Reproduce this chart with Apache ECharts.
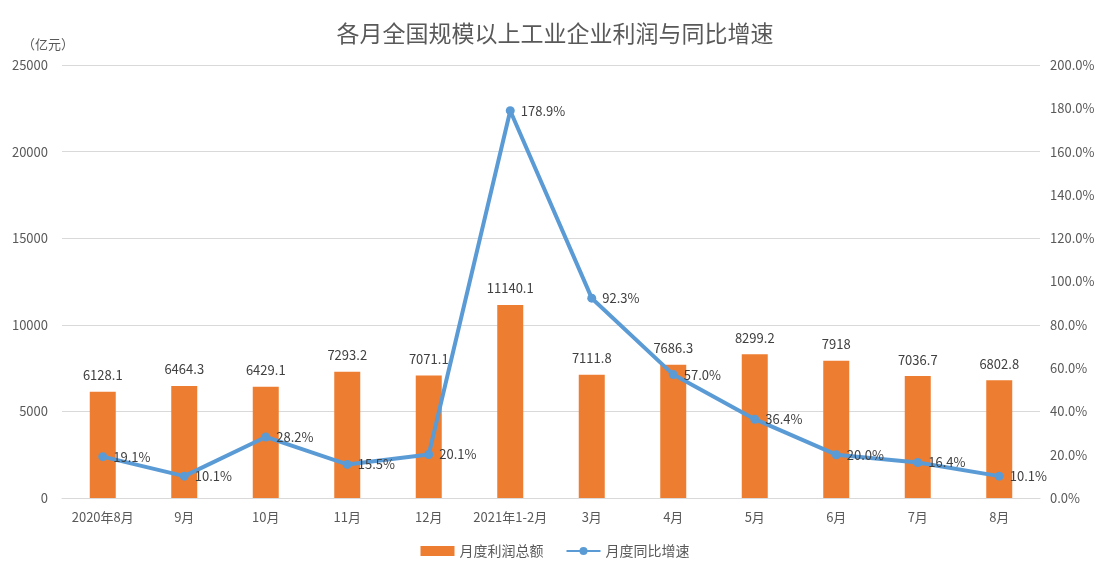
<!DOCTYPE html>
<html>
<head>
<meta charset="utf-8">
<script src="https://cdn.jsdelivr.net/npm/echarts@6/dist/echarts.min.js"></script>
<style>
html,body{margin:0;padding:0;background:#fff;}
#chart{width:1110px;height:583px;}
</style>
</head>
<body>
<div id="chart"></div>
<script>
// 数据
var months = ['2020年8月','9月','10月','11月','12月','2021年1-2月','3月','4月','5月','6月','7月','8月'];
var profit = [6128.1, 6464.3, 6429.1, 7293.2, 7071.1, 11140.1, 7111.8, 7686.3, 8299.2, 7918, 7036.7, 6802.8];
var growth = [19.1, 10.1, 28.2, 15.5, 20.1, 178.9, 92.3, 57.0, 36.4, 20.0, 16.4, 10.1];
var profitLabels = ['6128.1','6464.3','6429.1','7293.2','7071.1','11140.1','7111.8','7686.3','8299.2','7918','7036.7','6802.8'];

var fontFam = '"Microsoft YaHei","Noto Sans CJK SC","DejaVu Sans",sans-serif';
var myChart = echarts.init(document.getElementById('chart'));
var option = {
  textStyle: {fontFamily: fontFam},
  title: {
    text: '各月全国规模以上工业企业利润与同比增速',
    left: 'center',
    top: 17,
    textStyle: {fontSize: 23, fontWeight: 'normal', color: '#595959', fontFamily: fontFam}
  },
  legend: {
    bottom: 20,
    left: 'center',
    itemGap: 22,
    textStyle: {fontSize: 14, color: '#595959'},
    data: [
      {name: '月度利润总额', icon: 'rect', itemStyle: {color: '#ed7d31'}},
      {name: '月度同比增速'}
    ],
    itemWidth: 34,
    itemHeight: 10
  },
  grid: {left: 62, right: 70, top: 65, bottom: 85},
  xAxis: {
    type: 'category',
    data: months,
    axisLine: {lineStyle: {color: '#d9d9d9'}},
    axisTick: {show: false},
    axisLabel: {color: '#595959', fontSize: 13, margin: 13, interval: 0}
  },
  yAxis: [
    {
      type: 'value',
      min: 0, max: 25000, interval: 5000,
      name: '（亿元）',
      nameLocation: 'end',
      nameGap: 14,
      nameTextStyle: {color: '#595959', fontSize: 13, align: 'right', padding: [0, -12, 0, 0]},
      axisLine: {show: false},
      axisTick: {show: false},
      axisLabel: {color: '#595959', fontSize: 13, margin: 14, formatter: function (v) { return String(v); }},
      splitLine: {lineStyle: {color: '#d9d9d9'}}
    },
    {
      type: 'value',
      min: 0, max: 200, interval: 20,
      axisLine: {show: false},
      axisTick: {show: false},
      axisLabel: {color: '#595959', fontSize: 13, margin: 10, formatter: function (v) { return v.toFixed(1) + '%'; }},
      splitLine: {show: false}
    }
  ],
  series: [
    {
      name: '月度利润总额',
      type: 'bar',
      data: profit,
      barWidth: 26,
      itemStyle: {color: '#ed7d31'},
      label: {
        show: true, position: 'top', distance: 10,
        color: '#404040', fontSize: 13,
        formatter: function (p) { return profitLabels[p.dataIndex]; }
      }
    },
    {
      name: '月度同比增速',
      type: 'line',
      yAxisIndex: 1,
      data: growth,
      symbol: 'circle',
      symbolSize: 9,
      lineStyle: {color: '#5b9bd5', width: 4},
      itemStyle: {color: '#5b9bd5'},
      label: {
        show: true, position: 'right', distance: 6,
        color: '#404040', fontSize: 13,
        formatter: function (p) { return p.value.toFixed(1) + '%'; }
      },
      z: 3
    }
  ]
};
myChart.setOption(option);
window.addEventListener('resize', function () { myChart.resize(); });
</script>
</body>
</html>
